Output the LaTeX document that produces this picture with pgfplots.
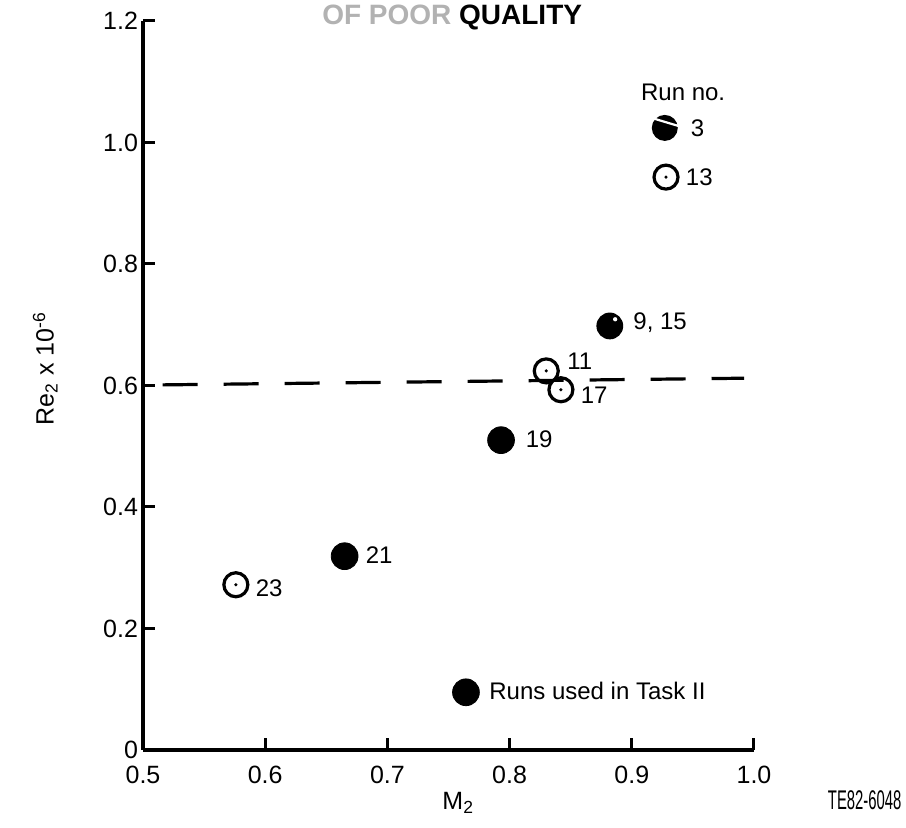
\documentclass[border=0pt]{standalone}
\usepackage{fontspec}
\setmainfont{Liberation Sans}
\newfontfamily\narrowfont{Liberation Sans}[FakeStretch=0.55]
\usepackage{pgfplots}
\pgfplotsset{compat=1.18}
\pgfdeclareplotmark{opendot}{%
  \pgfpathcircle{\pgfpointorigin}{\pgfplotmarksize}\pgfusepathqstroke
  \pgfpathcircle{\pgfpointorigin}{0.14\pgfplotmarksize}\pgfusepathqfill}
\pgfdeclareplotmark{slashdot}{%
  \pgfpathcircle{\pgfpointorigin}{\pgfplotmarksize}\pgfusepathqfill
  \pgfsetstrokecolor{white}\pgfsetlinewidth{1.1pt}%
  \pgfpathmoveto{\pgfpoint{-0.95\pgfplotmarksize}{0.75\pgfplotmarksize}}%
  \pgfpathlineto{\pgfpoint{1.05\pgfplotmarksize}{0.15\pgfplotmarksize}}%
  \pgfusepathqstroke}
\pgfdeclareplotmark{hilite}{%
  \pgfpathcircle{\pgfpointorigin}{\pgfplotmarksize}\pgfusepathqfill
  \pgfsetfillcolor{white}%
  \pgfpathcircle{\pgfpoint{0.4\pgfplotmarksize}{0.5\pgfplotmarksize}}{0.16\pgfplotmarksize}\pgfusepathqfill}
\begin{document}
\begin{tikzpicture}
\useasboundingbox (-71.5pt,-39pt) rectangle (381.5pt,375pt);
\begin{axis}[
  at={(0,0)}, anchor=south west,
  scale only axis, width=305.5pt, height=364.5pt,
  xmin=0.5, xmax=1.0, ymin=0, ymax=1.2,
  axis x line*=bottom, axis y line*=left,
  x axis line style={-}, y axis line style={-},
  axis line style={line width=2.2pt, -},
  tick align=inside, major tick length=6pt,
  tick style={black, line width=1.5pt},
  xtick={0.5,0.6,0.7,0.8,0.9,1.0},
  xticklabels={0.5,0.6,0.7,0.8,0.9,1.0},
  ytick={0,0.2,0.4,0.6,0.8,1.0,1.2},
  yticklabels={0,0.2,0.4,0.6,0.8,1.0,1.2},
  /pgf/number format/assume math mode=true,
  tick label style={font=\fontsize{12.5}{15}\selectfont},
  xticklabel style={yshift=-4.5pt},
  yticklabel style={xshift=1pt},
  xlabel={M\textsubscript{2}},
  ylabel={Re\textsubscript{2} x 10\textsuperscript{-6}},
  label style={font=\fontsize{12.5}{15}\selectfont},
  xlabel style={at={(axis description cs:0.516,-0.073)}, anchor=center},
  ylabel style={at={(axis description cs:-0.160,0.523)}, anchor=center, rotate=0},
  clip=false,
  legend style={draw=none, fill=none, at={(axis cs:0.753,0.095)}, anchor=west,
    font=\fontsize{12}{14}\selectfont, inner sep=0pt, column sep=3pt,
    legend cell align=left},
]
% dashed reference line
\addplot[black, line width=1.6pt, dash pattern=on 17.5pt off 13pt, forget plot]
  coordinates {(0.516,0.601) (0.992,0.612)};
% runs used in Task II (filled)
\addplot[only marks, mark=*, mark size=6.7pt, black]
  coordinates {(0.793,0.510) (0.665,0.319)};
\addlegendentry{Runs used in Task II}
\addplot[only marks, mark=hilite, mark size=6.7pt, black, forget plot]
  coordinates {(0.882,0.698)};
\addplot[only marks, mark=slashdot, mark size=6.5pt, black, forget plot]
  coordinates {(0.927,1.024)};
% open dotted circles
\addplot[only marks, mark=opendot, mark size=6pt, black, forget plot,
  mark options={line width=1.6pt}]
  coordinates {(0.928,0.943) (0.830,0.624) (0.842,0.593) (0.576,0.272)};
% point labels
\begin{scope}[every node/.style={font=\fontsize{12}{14}\selectfont, inner sep=0pt, anchor=west}]
\node[anchor=center] at (axis cs:0.942,1.083) {Run no.};
\node at (axis cs:0.948,1.024) {3};
\node at (axis cs:0.944,0.943) {13};
\node at (axis cs:0.901,0.703) {9, 15};
\node at (axis cs:0.847,0.640) {11};
\node at (axis cs:0.858,0.584) {17};
\node at (axis cs:0.813,0.512) {19};
\node at (axis cs:0.682,0.321) {21};
\node at (axis cs:0.592,0.267) {23};
\end{scope}
\node[font=\narrowfont\fontsize{13.5}{15}\selectfont, inner sep=0pt, anchor=east] at (axis description cs:1.242,-0.069) {TE82-6048};
\node[font=\bfseries\fontsize{14}{16}\selectfont] at (axis description cs:0.506,1.005)
  {\textcolor{black!30}{OF POOR} QUALITY};
\end{axis}
\end{tikzpicture}
\end{document}
